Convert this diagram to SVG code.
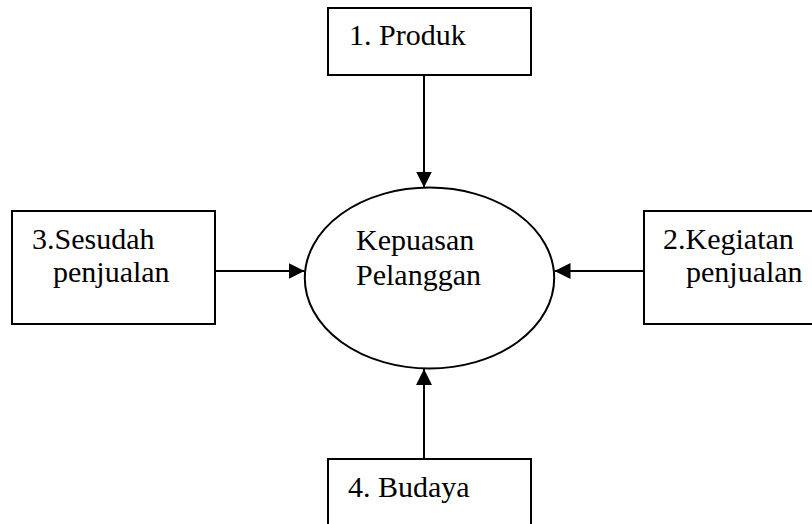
<svg xmlns="http://www.w3.org/2000/svg" width="812" height="524" viewBox="0 0 812 524">
<style>
.box{fill:#fff;stroke:#000;stroke-width:2}
.ell{fill:#fff;stroke:#000;stroke-width:2}
.c{stroke:#000;stroke-width:2;fill:none}
.t{font-family:"Times New Roman","Liberation Serif",serif;font-size:30px;fill:#000}
</style>
<defs>
<marker id="ah" markerUnits="userSpaceOnUse" markerWidth="16" markerHeight="16" viewBox="0 0 14 14" refX="14" refY="7" orient="auto">
<path d="M0,0 L14,7 L0,14 Z" fill="#000"/>
</marker>
</defs>
<rect width="812" height="524" fill="#fff"/>
<g id="center">
<ellipse class="ell" cx="429.5" cy="278" rx="124.7" ry="90.5"/>
<text class="t" x="356" y="250">Kepuasan</text>
<text class="t" x="356" y="285">Pelanggan</text>
</g>
<g id="produk">
<rect class="box" x="328" y="8" width="203" height="67"/>
<text class="t" x="349" y="45">1. Produk</text>
</g>
<g id="sesudah">
<rect class="box" x="12" y="211" width="203" height="113"/>
<text class="t" x="32" y="249">3.Sesudah</text>
<text class="t" x="53" y="282">penjualan</text>
</g>
<g id="kegiatan">
<rect class="box" x="644" y="211" width="200" height="113"/>
<text class="t" x="663" y="249">2.Kegiatan</text>
<text class="t" x="686" y="282">penjualan</text>
</g>
<g id="budaya">
<rect class="box" x="328" y="459" width="203" height="100"/>
<text class="t" x="348" y="497">4. Budaya</text>
</g>
<g id="connectors">
<line class="c" x1="424" y1="75" x2="424" y2="187.5" marker-end="url(#ah)"/>
<line class="c" x1="215" y1="271" x2="304.5" y2="271" marker-end="url(#ah)"/>
<line class="c" x1="644" y1="271" x2="554.5" y2="271" marker-end="url(#ah)"/>
<line class="c" x1="424" y1="459" x2="424" y2="369" marker-end="url(#ah)"/>
</g>
</svg>
